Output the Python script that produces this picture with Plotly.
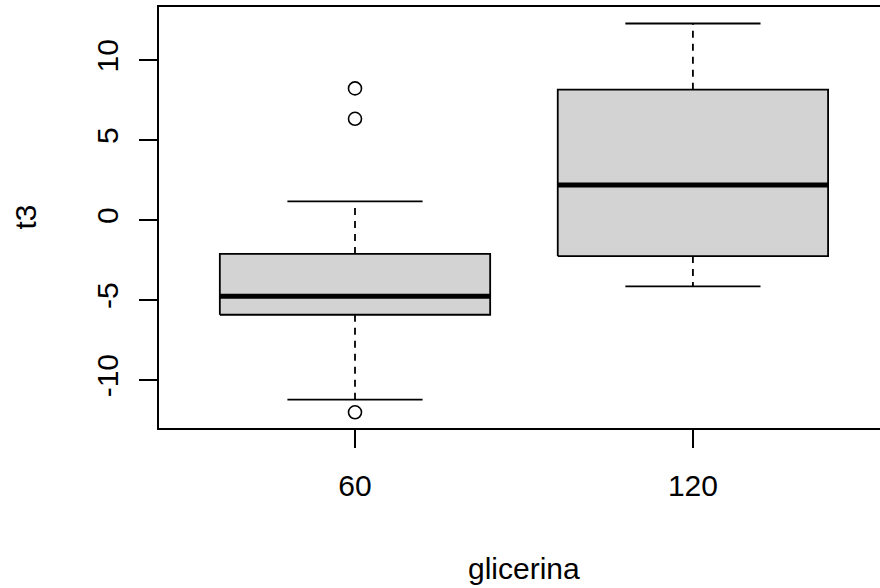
import plotly.graph_objects as go

# ---- data ----
groups = ["60", "120"]
positions = [1, 2]
q1 = [-5.91, -2.24]
median = [-4.76, 2.20]
q3 = [-2.11, 8.16]
lower_whisker = [-11.22, -4.14]
upper_whisker = [1.18, 12.30]
outliers = [[8.24, 6.34, -12.01], []]

y_tickvals = [-10, -5, 0, 5, 10]
y_ticktext = ["-10", "-5", "0", "5", "10"]

# ---- styling ----
BOX_W = 0.8
CAP_W = 0.4
FILL = "#D3D3D3"
LW = 1.8
FONT = "Liberation Sans, Arial, sans-serif"
FS = 30
W, H = 880, 588
ML, MT, MB = 159, 7, 160
PLOT_W, PLOT_H = W - ML, H - MT - MB

fig = go.Figure()
for i, p in enumerate(positions):
    for a, b in ((q3[i], upper_whisker[i]), (q1[i], lower_whisker[i])):
        fig.add_trace(go.Scatter(x=[p, p], y=[a, b], mode="lines",
                                 line=dict(color="black", width=LW, dash="7px,6px"),
                                 hoverinfo="skip", showlegend=False))
    for v in (upper_whisker[i], lower_whisker[i]):
        fig.add_trace(go.Scatter(x=[p - CAP_W / 2, p + CAP_W / 2], y=[v, v], mode="lines",
                                 line=dict(color="black", width=LW),
                                 hoverinfo="skip", showlegend=False))
    xl, xr = p - BOX_W / 2, p + BOX_W / 2
    fig.add_trace(go.Scatter(x=[xl, xr, xr, xl, xl],
                             y=[q1[i], q1[i], q3[i], q3[i], q1[i]],
                             mode="lines", fill="toself", fillcolor=FILL,
                             line=dict(color="black", width=LW),
                             hoverinfo="skip", showlegend=False))
    fig.add_trace(go.Scatter(x=[xl, xr], y=[median[i], median[i]], mode="lines",
                             line=dict(color="black", width=5),
                             hoverinfo="skip", showlegend=False))
    if outliers[i]:
        fig.add_trace(go.Scatter(x=[p] * len(outliers[i]), y=outliers[i], mode="markers",
                                 marker=dict(symbol="circle-open", size=13, color="black",
                                             line=dict(width=1.6, color="black")),
                                 showlegend=False))

fig.update_layout(
    width=W, height=H,
    margin=dict(l=ML, r=0, t=MT, b=MB),
    paper_bgcolor="white", plot_bgcolor="white",
    font=dict(family=FONT, size=FS, color="black"),
    showlegend=False,
    xaxis=dict(range=[0.42, 2.5536], tickvals=positions, ticktext=groups,
               showgrid=False, zeroline=False, showline=True, mirror=True,
               linecolor="black", linewidth=1.8,
               ticks="outside", ticklen=18, tickwidth=1.5, tickcolor="black",
               ticklabelstandoff=12,
               tickfont=dict(family=FONT, size=FS, color="black")),
    yaxis=dict(range=[-12.99, 13.33], tickvals=y_tickvals, ticktext=y_ticktext,
               showgrid=False, zeroline=False, showline=True, mirror=False,
               linecolor="black", linewidth=1.8,
               ticks="outside", ticklen=18, tickwidth=1.5, tickcolor="black",
               tickangle=-90, ticklabelstandoff=9,
               tickfont=dict(family=FONT, size=FS, color="black")),
    annotations=[
        dict(text="glicerina", x=1.5, xref="x",
             y=(H - MB - 568) / PLOT_H, yref="paper", yanchor="middle",
             showarrow=False, font=dict(family=FONT, size=FS, color="black")),
        dict(text="t3", x=(25 - ML) / PLOT_W, xref="paper", xanchor="center",
             y=0.5, yref="paper", yanchor="middle", textangle=-90,
             showarrow=False, font=dict(family=FONT, size=FS, color="black")),
    ],
)

fig.write_html("out.html", config={"displayModeBar": False},
               post_script="document.body.style.margin='0';")
